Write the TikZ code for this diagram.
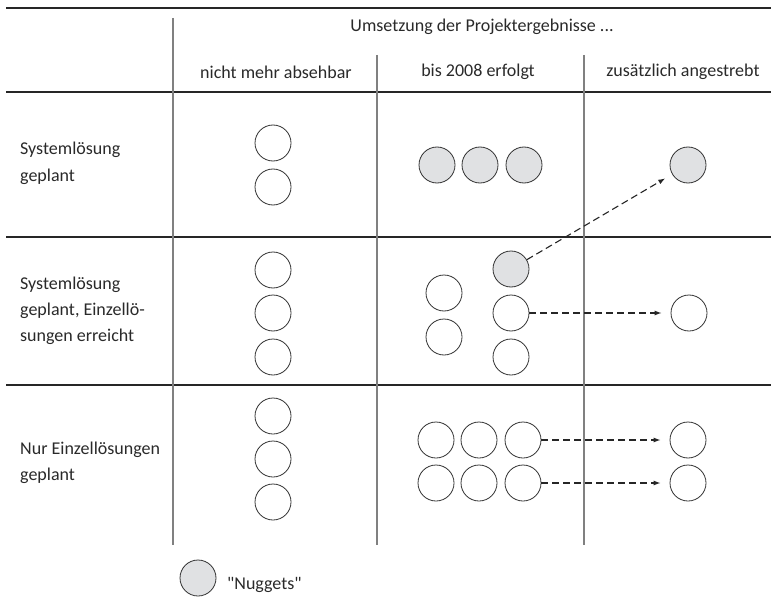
\documentclass[tikz,border=0pt]{standalone}
\usepackage{fontspec}
\setmainfont{Carlito}
\newfontfamily\plainq{Carlito}[Ligatures=TeXOff]
\usetikzlibrary{arrows.meta}
\definecolor{nuggetgray}{HTML}{E0E1E3}
\definecolor{txt}{HTML}{2A2A2A}
\begin{document}
\begin{tikzpicture}[x=1pt,y=-1pt,
  hline/.style={draw=black!85, line width=1.1pt},
  vline/.style={draw=black!50, line width=1.4pt},
  ring/.style={circle, draw=black!80, line width=0.8pt, minimum size=36pt, inner sep=0pt, fill=white},
  nug/.style={ring, fill=nuggetgray},
  lbl/.style={font=\fontsize{18}{26}\selectfont, text=txt, inner sep=0pt},
  darrow/.style={draw=black!85, line width=1.1pt, dash pattern=on 7pt off 4pt, -{Latex[length=7pt,width=5pt]}}
]
\useasboundingbox[fill=white] (0,0) rectangle (771,607);

% table lines
\draw[hline] (6,8) -- (771,8);
\draw[hline] (6,92) -- (771,92);
\draw[hline] (6,237) -- (771,237);
\draw[hline] (6,385) -- (771,385);
\draw[vline] (173,18) -- (173,545);
\draw[vline] (377,55) -- (377,545);
\draw[vline] (584,55) -- (584,545);

% headers
\node[lbl] (hmain) at (482,27) {Umsetzung der Projektergebnisse ...};
\node[lbl] (hc1) at (276,72) {nicht mehr absehbar};
\node[lbl] (hc2) at (478,72) {bis 2008 erfolgt};
\node[lbl] (hc3) at (683,72) {zusätzlich angestrebt};

% row labels (base anchor = baseline of last line)
\node[lbl, anchor=base west, align=left] (lr1) at (20,181) {Systemlösung\\geplant};
\node[lbl, anchor=base west, align=left] (lr2) at (20,341) {Systemlösung\\geplant, Einzellö-\\sungen erreicht};
\node[lbl, anchor=base west, align=left] (lr3) at (20,480) {Nur Einzellösungen\\geplant};

% row 1
\node[ring] (a1) at (273,143) {};
\node[ring] (a2) at (273,187) {};
\node[nug] (b1) at (437,165) {};
\node[nug] (b2) at (480,165) {};
\node[nug] (b3) at (524,165) {};
\node[nug] (c1) at (688,165) {};

% row 2
\node[ring] (d1) at (273,270) {};
\node[ring] (d2) at (273,313) {};
\node[ring] (d3) at (273,357) {};
\node[ring] (e1) at (444,293) {};
\node[ring] (e2) at (444,337) {};
\node[nug] (f1) at (511,269) {};
\node[ring] (f2) at (511,313) {};
\node[ring] (f3) at (511,357) {};
\node[ring] (g1) at (689,313) {};

% row 3
\node[ring] (h1) at (273,416) {};
\node[ring] (h2) at (273,459) {};
\node[ring] (h3) at (273,502) {};
\node[ring] (i1) at (436,440) {};
\node[ring] (i2) at (479,440) {};
\node[ring] (i3) at (523,440) {};
\node[ring] (j1) at (436,483) {};
\node[ring] (j2) at (479,483) {};
\node[ring] (j3) at (523,483) {};
\node[ring] (k1) at (688,440) {};
\node[ring] (k2) at (688,483) {};

% arrows
\draw[darrow, shorten >=8pt] (f1) -- (c1);
\draw[darrow, shorten >=9pt] (f2) -- (g1);
\draw[darrow, shorten >=9pt] (i3) -- (k1);
\draw[darrow, shorten >=9pt] (j3) -- (k2);

% legend
\node[nug] (leg) at (198,578) {};
\node[lbl, anchor=west, font=\plainq\fontsize{18}{26}\selectfont] (legt) at (227,585) {"Nuggets"};
\end{tikzpicture}
\end{document}
